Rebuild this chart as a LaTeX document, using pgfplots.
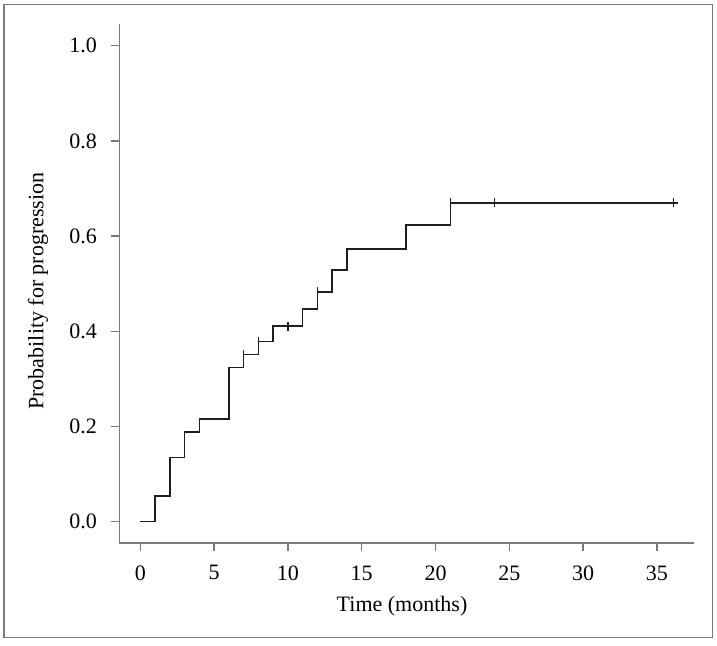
\documentclass[border=0pt]{standalone}
\usepackage{fontspec}
\setmainfont{Liberation Serif}
\usepackage{pgfplots}
\pgfplotsset{compat=1.18}
\definecolor{axgray}{HTML}{7A7A7A}
\definecolor{curve}{HTML}{1E1E1E}
\begin{document}
\fontsize{22bp}{26bp}\selectfont
\begin{tikzpicture}[x=1bp,y=1bp]
\useasboundingbox (-119.3,-103) rectangle (597.7,543);
\draw[axgray, line width=1.3bp] (-115.3,-94.3) rectangle (593,538.3);
\begin{axis}[
  at={(0,0)}, anchor=south west,
  scale only axis, width=575bp, height=519bp,
  xmin=-1.42, xmax=37.53, ymin=-0.0447, ymax=1.0456,
  axis lines*=left,
  axis line style={axgray, line width=1.4bp},
  tick style={axgray, line width=1.4bp},
  tick align=outside, major tick length=8bp,
  xtick={0,5,10,15,20,25,30,35},
  ytick={0,0.2,0.4,0.6,0.8,1.0},
  /pgf/number format/assume math mode=true,
  yticklabel style={xshift=-7bp, /pgf/number format/.cd, fixed, fixed zerofill, precision=1},
  xticklabel style={yshift=-7bp},
  xlabel={Time (months)},
  ylabel={Probability for progression},
  xlabel style={at={(axis description cs:0.4917,-0.1214)}, anchor=center},
  ylabel style={at={(axis description cs:-0.1414,0.4855)}, anchor=center},
  clip=false,
]
\addplot[const plot, curve, line width=1.5bp, mark=none] coordinates {
(0,0) (1,0.054) (2,0.135) (3,0.189) (4,0.216) (6,0.324) (7,0.351) (8,0.379)
(9,0.411) (11,0.447) (12,0.483) (13,0.529) (14,0.573) (18,0.623) (21,0.670) (36.4,0.670)
};
\addplot[only marks, curve, mark=|, mark size=4.5bp, mark options={line width=1.4bp}] coordinates {
(7,0.351) (8,0.379) (10,0.411) (12,0.483) (21,0.670) (24,0.670) (36.1,0.670)
};
\end{axis}
\end{tikzpicture}
\end{document}
